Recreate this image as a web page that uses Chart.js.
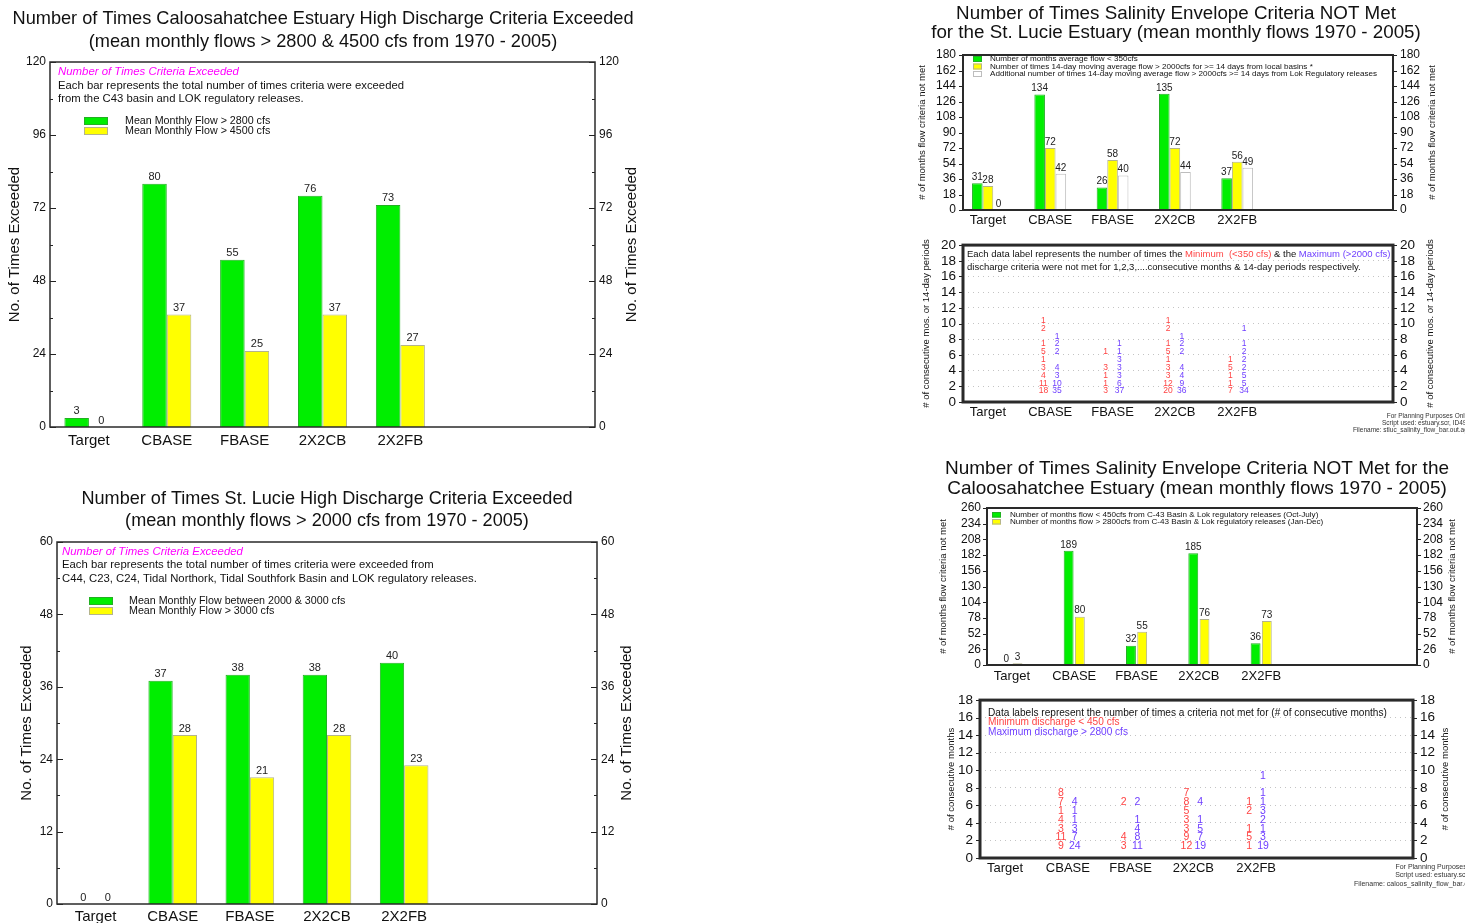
<!DOCTYPE html>
<html>
<head>
<meta charset="utf-8">
<script src="https://cdn.jsdelivr.net/npm/chart.js@4.4.1/dist/chart.umd.min.js"></script>
<style>
body{margin:0;background:#fff;width:1465px;height:923px;position:relative;overflow:hidden}
canvas{position:absolute}
</style>
</head>
<body>
<canvas id="caloosHigh" width="650" height="455" style="left:0;top:0"></canvas>
<canvas id="stlucieHigh" width="650" height="443" style="left:0;top:480px"></canvas>
<canvas id="stlucieSalinity" width="565" height="235" style="left:900px;top:0"></canvas>
<canvas id="stlucieRuns" width="565" height="205" style="left:900px;top:230px"></canvas>
<canvas id="caloosSalinity" width="565" height="240" style="left:900px;top:455px"></canvas>
<canvas id="caloosRuns" width="565" height="238" style="left:900px;top:685px"></canvas>
<script>
// scenarios on the x axis
const scenarios = ["Target", "CBASE", "FBASE", "2X2CB", "2X2FB"]

// high discharge counts
const caloosOver2800 = [3, 80, 55, 76, 73]
const caloosOver4500 = [0, 37, 25, 37, 27]
const stlBetween2000and3000 = [0, 37, 38, 38, 40]
const stlOver3000 = [0, 28, 21, 28, 23]

// salinity envelope counts
const stlLow350 = [31, 134, 26, 135, 37]
const stlLocal2000 = [28, 72, 58, 72, 56]
const stlLok2000 = [0, 42, 40, 44, 49]
const caloosLow450 = [0, 189, 32, 185, 36]
const caloosHigh2800 = [3, 80, 55, 76, 73]

// times not met for 1,2,3... consecutive periods (null = no label)
const stlMinRuns = [[], [18, 11, 4, 3, 1, 5, 1, null, 2, 1], [3, 1, 1, 3, null, 1], [20, 12, 3, 3, 1, 5, 1, null, 2, 1], [7, 1, 1, 5, 1]]
const stlMaxRuns = [[], [35, 10, 3, 4, null, 2, 2, 1], [37, 6, 3, 3, 3, 1, 1], [36, 9, 4, 4, null, 2, 2, 1], [34, 5, 5, 2, 2, 2, 1, null, 1]]
const caloosMinRuns = [[], [9, 11, 3, 4, 1, 7, 8], [3, 4, null, null, null, 2], [12, 9, 3, 3, 5, 8, 7], [1, 5, 1, null, 2, 1]]
const caloosMaxRuns = [[], [24, 7, 3, 1, 1, 4], [11, 8, 4, 1, null, 2], [19, 7, 5, 1, null, 4], [19, 3, 1, 2, 3, 1, 1, null, 1]]

const FONT = "'Liberation Sans', Arial, sans-serif"
const GREEN = '#00ee00', GREEN_EDGE = '#22b022'
const YELLOW = '#ffff00', YELLOW_EDGE = '#b4b48c'
const RED = '#ff4444', BLUE = '#6f3fff'

Chart.defaults.font.family = FONT
Chart.defaults.color = '#111'
Chart.defaults.animation = false
Chart.defaults.responsive = false
Chart.defaults.plugins.legend.display = false
Chart.defaults.plugins.tooltip.enabled = false

// frame, ticks, titles, notes, legend and value labels
function decor(cfg) {
    return {
        id: 'decor',
        afterDatasetsDraw(chart) {
            const ctx = chart.ctx
            ctx.save()
            ctx.textAlign = 'center'
            if (cfg.values) {
                ctx.font = cfg.values + 'px ' + FONT
                ctx.fillStyle = '#222'
                ctx.textBaseline = 'bottom'
                chart.data.datasets.forEach((ds, i) => {
                    chart.getDatasetMeta(i).data.forEach((bar, j) => {
                        const d = ds.data[j]
                        ctx.fillText(typeof d === 'object' ? d.y : d, bar.x, bar.y - 1)
                    })
                })
            }
            if (cfg.runs) {
                ctx.font = cfg.runs + 'px ' + FONT
                ctx.textBaseline = 'middle'
                chart.data.datasets.forEach((ds, i) => {
                    ctx.fillStyle = ds.textColor
                    chart.getDatasetMeta(i).data.forEach((pt, j) => {
                        ctx.fillText(ds.data[j].v, pt.x, pt.y - 3)
                    })
                })
            }
            ctx.restore()
        },
        afterDraw(chart) {
            const ctx = chart.ctx, a = chart.chartArea
            ctx.save()
            // ticks on both sides
            const ys = chart.scales.y
            ctx.strokeStyle = '#222'
            ctx.lineWidth = 1
            ys.ticks.forEach(t => {
                const py = Math.round(ys.getPixelForValue(t.value)) + 0.5
                const len = t.value % cfg.every === 0 ? cfg.tick : cfg.tick / 2
                const dir = cfg.inward ? 1 : -1
                ctx.beginPath()
                ctx.moveTo(a.left, py); ctx.lineTo(a.left + dir * len, py)
                ctx.moveTo(a.right, py); ctx.lineTo(a.right - dir * len, py)
                ctx.stroke()
            })
            // plot frame
            ctx.strokeStyle = '#2a2a2a'
            ctx.lineWidth = cfg.frame
            ctx.strokeRect(a.left, a.top, a.right - a.left, a.bottom - a.top)
            // rotated side titles
            if (cfg.side) {
                ctx.font = cfg.side.font + 'px ' + FONT
                ctx.fillStyle = '#111'
                ctx.textAlign = 'center'
                ctx.textBaseline = 'middle'
                const cy = (a.top + a.bottom) / 2
                ;[a.left - cfg.side.left, a.right + cfg.side.right].forEach(x => {
                    ctx.save()
                    ctx.translate(x, cy)
                    ctx.rotate(-Math.PI / 2)
                    ctx.fillText(cfg.side.text, 0, 0)
                    ctx.restore()
                })
            }
            // free text
            ctx.textBaseline = 'middle'
            ;(cfg.texts || []).forEach(t => {
                ctx.font = t.font + ' ' + FONT
                ctx.textAlign = t.align || 'left'
                if (t.parts) {
                    let x = t.x
                    t.parts.forEach(([s, c]) => {
                        ctx.fillStyle = c
                        ctx.fillText(s, x, t.y)
                        x += ctx.measureText(s).width
                    })
                } else {
                    ctx.fillStyle = t.color || '#111'
                    ctx.fillText(t.text, t.x, t.y)
                }
            })
            // legend from the datasets
            if (cfg.legend) {
                const L = cfg.legend
                ctx.font = L.font + 'px ' + FONT
                ctx.textAlign = 'left'
                chart.data.datasets.forEach((ds, i) => {
                    const y = L.y + i * L.step
                    ctx.fillStyle = ds.backgroundColor
                    ctx.fillRect(L.x, y, L.w, L.h)
                    ctx.strokeStyle = ds.borderColor
                    ctx.lineWidth = 1
                    ctx.strokeRect(L.x + 0.5, y + 0.5, L.w - 1, L.h - 1)
                    ctx.fillStyle = '#111'
                    ctx.fillText(ds.label, L.textX, y + L.h / 2)
                })
            }
            ctx.restore()
        }
    }
}

function panelOptions(p) {
    const yAxis = (pos, w) => ({
        type: 'linear', position: pos, min: 0, max: p.max,
        grid: p.dotted && pos === 'left'
            ? { display: true, drawTicks: false, color: '#c4c4c4' }
            : { display: false, drawTicks: false },
        border: { display: false, dash: [1, 4] },
        ticks: {
            stepSize: p.step, font: { size: p.yFont }, color: '#111', padding: p.yPad, autoSkip: false,
            callback: v => (v % p.every === 0 ? v : '')
        },
        afterFit: s => { s.width = w }
    })
    const xTicks = { font: { size: p.xFont }, color: '#111', padding: p.xPad, autoSkip: false, maxRotation: 0 }
    const x = p.linear
        ? {
            type: 'linear', min: -0.4, max: 6.5, offset: false,
            ticks: Object.assign({ stepSize: 1, includeBounds: false, callback: v => scenarios[v] || '' }, xTicks),
            grid: { display: false, drawTicks: false, offset: false }, border: { display: false },
            afterFit: s => { s.height = p.bottom }
        }
        : {
            type: 'category', offset: true, ticks: xTicks,
            grid: { display: false, drawTicks: false }, border: { display: false },
            afterFit: s => { s.height = p.bottom }
        }
    return {
        layout: { padding: { top: p.top, left: 0, right: 0, bottom: 0 } },
        scales: { x: x, y: yAxis('left', p.left), y2: yAxis('right', p.right) }
    }
}

const xy = arr => arr.map((v, i) => ({ x: i, y: v }))

function runPoints(runs, shift) {
    const pts = []
    runs.forEach((col, i) => col.forEach((v, k) => {
        if (v !== null) pts.push({ x: i + shift, y: k + 1, v: v })
    }))
    return pts
}

const slotLabels = scenarios.concat(['', ''])

// Caloosahatchee high discharge
new Chart('caloosHigh', {
    type: 'bar',
    data: {
        labels: slotLabels,
        datasets: [
            { label: 'Mean Monthly Flow > 2800 cfs', data: caloosOver2800, backgroundColor: GREEN, borderColor: GREEN_EDGE, borderWidth: 1 },
            { label: 'Mean Monthly Flow > 4500 cfs', data: caloosOver4500, backgroundColor: YELLOW, borderColor: YELLOW_EDGE, borderWidth: 1 }
        ]
    },
    options: Object.assign({
        datasets: { bar: { categoryPercentage: 0.63, barPercentage: 1 } }
    }, panelOptions({ top: 62, left: 50, right: 55, bottom: 28, max: 120, step: 12, every: 24, yFont: 12, yPad: 4, xFont: 15, xPad: 5 })),
    plugins: [decor({
        frame: 1.5, tick: 6, every: 24, inward: true, values: 11,
        side: { text: 'No. of Times Exceeded', font: 15, left: 35, right: 37 },
        legend: { x: 84, y: 117, w: 24, h: 8, step: 10, textX: 125, font: 10.7 },
        texts: [
            { x: 323, y: 19, text: 'Number of Times Caloosahatchee Estuary High Discharge Criteria Exceeded', font: '18.2px', align: 'center' },
            { x: 323, y: 42, text: '(mean monthly flows > 2800 & 4500 cfs from 1970 - 2005)', font: '18.2px', align: 'center' },
            { x: 58, y: 72, text: 'Number of Times Criteria Exceeded', font: 'italic 11.4px', color: '#ff00ff' },
            { x: 58, y: 86, text: 'Each bar represents the total number of times criteria were exceeded', font: '11.3px' },
            { x: 58, y: 99, text: 'from the C43 basin and LOK regulatory releases.', font: '11.3px' }
        ]
    })]
})

// St. Lucie high discharge
new Chart('stlucieHigh', {
    type: 'bar',
    data: {
        labels: slotLabels,
        datasets: [
            { label: 'Mean Monthly Flow between 2000 & 3000 cfs', data: stlBetween2000and3000, backgroundColor: GREEN, borderColor: GREEN_EDGE, borderWidth: 1 },
            { label: 'Mean Monthly Flow > 3000 cfs', data: stlOver3000, backgroundColor: YELLOW, borderColor: YELLOW_EDGE, borderWidth: 1 }
        ]
    },
    options: Object.assign({
        datasets: { bar: { categoryPercentage: 0.63, barPercentage: 1 } }
    }, panelOptions({ top: 62, left: 57, right: 53, bottom: 19, max: 60, step: 6, every: 12, yFont: 12, yPad: 4, xFont: 15, xPad: 4 })),
    plugins: [decor({
        frame: 1.5, tick: 6, every: 12, inward: true, values: 11,
        side: { text: 'No. of Times Exceeded', font: 15, left: 30, right: 30 },
        legend: { x: 89, y: 117, w: 24, h: 8, step: 10, textX: 129, font: 10.7 },
        texts: [
            { x: 327, y: 19, text: 'Number of Times St. Lucie High Discharge Criteria Exceeded', font: '18.1px', align: 'center' },
            { x: 327, y: 41, text: '(mean monthly flows > 2000 cfs from 1970 - 2005)', font: '18.1px', align: 'center' },
            { x: 62, y: 72, text: 'Number of Times Criteria Exceeded', font: 'italic 11.4px', color: '#ff00ff' },
            { x: 62, y: 85, text: 'Each bar represents the total number of times criteria were exceeded from', font: '11.3px' },
            { x: 62, y: 99, text: 'C44, C23, C24, Tidal Northork, Tidal Southfork Basin and LOK regulatory releases.', font: '11.3px' }
        ]
    })]
})

// St. Lucie salinity envelope
new Chart('stlucieSalinity', {
    type: 'bar',
    data: {
        datasets: [
            { label: 'Number of months average flow < 350cfs', data: xy(stlLow350), backgroundColor: GREEN, borderColor: GREEN_EDGE, borderWidth: 1 },
            { label: 'Number of times 14-day moving average flow > 2000cfs for >= 14 days from local basins *', data: xy(stlLocal2000), backgroundColor: YELLOW, borderColor: YELLOW_EDGE, borderWidth: 1 },
            { label: 'Additional number of times 14-day moving average flow > 2000cfs >= 14 days from Lok Regulatory releases', data: xy(stlLok2000), backgroundColor: '#ffffff', borderColor: '#bdbdbd', borderWidth: 1 }
        ]
    },
    options: Object.assign({
        datasets: { bar: { categoryPercentage: 0.51, barPercentage: 1 } }
    }, panelOptions({ top: 55, left: 63, right: 72, bottom: 25, max: 180, step: 18, every: 18, yFont: 12, yPad: 7, xFont: 13, xPad: 3, linear: true })),
    plugins: [decor({
        frame: 2, tick: 4, every: 18, inward: false, values: 10,
        side: { text: '# of months flow criteria not met', font: 9.5, left: 41, right: 39 },
        legend: { x: 73, y: 56, w: 9, h: 6, step: 7.5, textX: 90, font: 8.1 },
        texts: [
            { x: 276, y: 14, text: 'Number of Times Salinity Envelope Criteria NOT Met', font: '18.8px', align: 'center' },
            { x: 276, y: 33, text: 'for the St. Lucie Estuary (mean monthly flows 1970 - 2005)', font: '18.8px', align: 'center' }
        ]
    })]
})

// St. Lucie consecutive periods
new Chart('stlucieRuns', {
    type: 'scatter',
    data: {
        datasets: [
            { data: runPoints(stlMinRuns, -0.11), textColor: RED, pointRadius: 0 },
            { data: runPoints(stlMaxRuns, 0.11), textColor: BLUE, pointRadius: 0 }
        ]
    },
    options: panelOptions({ top: 14, left: 63, right: 72, bottom: 33, max: 20, step: 2, every: 2, yFont: 13.5, yPad: 7, xFont: 13, xPad: 3, linear: true, dotted: true }),
    plugins: [decor({
        frame: 3, tick: 4, every: 2, inward: false, runs: 8.5,
        side: { text: '# of consecutive mos. or 14-day periods', font: 9.5, left: 37, right: 37 },
        texts: [
            { x: 67, y: 24, font: '9.5px', parts: [['Each data label represents the number of times the ', '#111'], ['Minimum  (<350 cfs)', RED], [' & the ', '#111'], ['Maximum (>2000 cfs)', BLUE]] },
            { x: 67, y: 37, text: 'discharge criteria were not met for 1,2,3,....consecutive months & 14-day periods respectively.', font: '9.5px' },
            { x: 568, y: 186, text: 'For Planning Purposes Only', font: '6.5px', align: 'right', color: '#333' },
            { x: 570, y: 193, text: 'Script used: estuary.scr, ID496', font: '6.5px', align: 'right', color: '#333' },
            { x: 570, y: 200, text: 'Filename: stluc_salinity_flow_bar.out.agr', font: '6.5px', align: 'right', color: '#333' }
        ]
    })]
})

// Caloosahatchee salinity envelope
new Chart('caloosSalinity', {
    type: 'bar',
    data: {
        datasets: [
            { label: 'Number of months flow < 450cfs from C-43 Basin & Lok regulatory releases (Oct-July)', data: xy(caloosLow450), backgroundColor: GREEN, borderColor: GREEN_EDGE, borderWidth: 1 },
            { label: 'Number of months flow > 2800cfs from C-43 Basin & Lok regulatory releases (Jan-Dec)', data: xy(caloosHigh2800), backgroundColor: YELLOW, borderColor: YELLOW_EDGE, borderWidth: 1 }
        ]
    },
    options: Object.assign({
        datasets: { bar: { categoryPercentage: 0.36, barPercentage: 0.88 } }
    }, panelOptions({ top: 53, left: 87, right: 48, bottom: 30, max: 260, step: 26, every: 26, yFont: 12, yPad: 6, xFont: 13, xPad: 4, linear: true })),
    plugins: [decor({
        frame: 2, tick: 4, every: 26, inward: false, values: 10,
        side: { text: '# of months flow criteria not met', font: 9.5, left: 44, right: 35 },
        legend: { x: 92, y: 57, w: 9, h: 5.5, step: 7, textX: 110, font: 8.1 },
        texts: [
            { x: 297, y: 14, text: 'Number of Times Salinity Envelope Criteria NOT Met for the', font: '19px', align: 'center' },
            { x: 297, y: 34, text: 'Caloosahatchee Estuary (mean monthly flows 1970 - 2005)', font: '19px', align: 'center' }
        ]
    })]
})

// Caloosahatchee consecutive months
new Chart('caloosRuns', {
    type: 'scatter',
    data: {
        datasets: [
            { data: runPoints(caloosMinRuns, -0.11), textColor: RED, pointRadius: 0 },
            { data: runPoints(caloosMaxRuns, 0.11), textColor: BLUE, pointRadius: 0 }
        ]
    },
    options: panelOptions({ top: 15, left: 80, right: 52, bottom: 65, max: 18, step: 2, every: 2, yFont: 13.5, yPad: 7, xFont: 13, xPad: 3, linear: true, dotted: true }),
    plugins: [decor({
        frame: 3, tick: 4, every: 2, inward: false, runs: 10.5,
        side: { text: '# of consecutive months', font: 9.5, left: 29, right: 32 },
        texts: [
            { x: 88, y: 28, text: 'Data labels represent the number of times a criteria not met for (# of consecutive months)', font: '10.1px' },
            { x: 88, y: 37, text: 'Minimum discharge < 450 cfs', font: '10.1px', color: RED },
            { x: 88, y: 47, text: 'Maximum discharge > 2800 cfs', font: '10.1px', color: BLUE },
            { x: 583, y: 182, text: 'For Planning Purposes Only', font: '7px', align: 'right', color: '#333' },
            { x: 590, y: 190, text: 'Script used: estuary.scr, ID496', font: '7px', align: 'right', color: '#333' },
            { x: 586, y: 199, text: 'Filename: caloos_salinity_flow_bar.out.agr', font: '7px', align: 'right', color: '#333' }
        ]
    })]
})
</script>
</body>
</html>
